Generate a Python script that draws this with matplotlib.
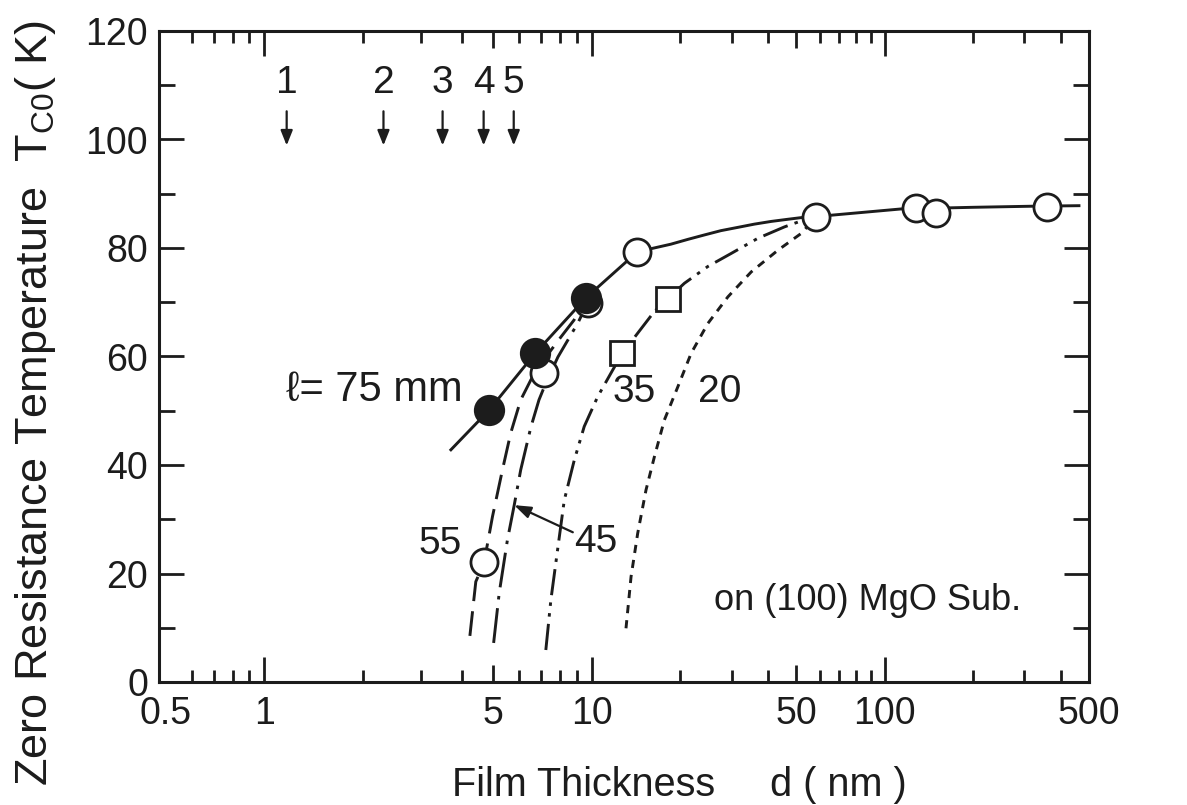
import numpy as np
import matplotlib
matplotlib.use("Agg")
import matplotlib.pyplot as plt
from matplotlib import font_manager as fm
from matplotlib.ticker import FixedLocator, NullFormatter

# ---------------- data ----------------
# measured points
open_d = [4.68, 7.14, 9.7, 14.3, 58.5, 128, 150, 359]
open_T = [22.1, 56.9, 69.8, 79.3, 85.8, 87.3, 86.4, 87.6]
filled_d = [4.85, 6.71, 9.58]
filled_T = [50.1, 60.6, 70.8]
square_d = [12.7, 18.2]
square_T = [60.6, 70.6]

# guide curves for substrate distance l (mm)
c75_d = [3.71, 4.85, 6.71, 9.58, 14.3, 16.3, 18.6, 21.3, 24.2, 27.6, 31.5, 35.9, 41.0,
         46.8, 51.9, 58.5, 114, 200, 318, 462]
c75_T = [42.8, 50.1, 60.6, 70.8, 79.3, 80.0, 80.7, 81.6, 82.4, 83.2, 83.8, 84.4, 84.9,
         85.3, 85.6, 85.8, 87.2, 87.5, 87.7, 87.8]
c55_d = [4.24, 4.42, 4.68, 4.97, 5.33, 5.65, 6.06, 6.51, 7.23, 8.04, 8.81, 9.58]
c55_T = [8.5, 18.5, 21.9, 30.5, 39.1, 45.9, 52.0, 55.7, 59.9, 63.6, 66.7, 70.8]
c45_d = [5.01, 5.21, 5.52, 5.79, 6.06, 6.51, 6.89, 7.23, 7.87, 9.06, 9.79]
c45_T = [7.2, 16.4, 26.2, 32.6, 39.1, 47.0, 52.0, 55.1, 59.9, 66.2, 70.4]
c35_d = [7.23, 7.49, 7.85, 8.23, 8.83, 9.47, 10.46, 11.77, 12.7, 14.33, 16.34, 18.2,
         20.7, 24.9, 29.92, 36.93, 45.54, 51.94, 58.5]
c35_T = [5.9, 15.1, 24.3, 33.5, 40.9, 47.1, 52.6, 57.5, 60.6, 64.3, 68.3, 70.7,
         73.5, 76.6, 79.0, 81.8, 83.9, 85.0, 85.8]
c20_d = [13.07, 13.60, 14.33, 15.30, 16.34, 17.68, 19.65, 21.83, 24.90, 29.15, 35.03,
         43.23, 51.94, 58.5]
c20_T = [9.9, 19.4, 27.4, 35.4, 41.5, 48.3, 54.4, 60.6, 66.1, 71.0, 75.6,
         79.6, 82.7, 85.8]

# numbered thickness markers at the top
mark_labels = ["1", "2", "3", "4", "5"]
mark_d = [1.17, 2.31, 3.50, 4.67, 5.77]

xtick_vals = [0.5, 1, 5, 10, 50, 100, 500]
xtick_labels = ["0.5", "1", "5", "10", "50", "100", "500"]
ytick_vals = [0, 20, 40, 60, 80, 100, 120]

# ---------------- fonts ----------------
avail = {f.name for f in fm.fontManager.ttflist}
FONT = "Liberation Sans" if "Liberation Sans" in avail else "DejaVu Sans"
S_TICK, S_NUM, S_XLAB, S_YLAB, S_SMALL, S_ELL = 27, 28, 28.5, 32.5, 26, 30
plt.rcParams["font.family"] = [FONT, "DejaVu Sans"]
plt.rcParams["mathtext.fontset"] = "custom"
plt.rcParams["mathtext.rm"] = FONT
plt.rcParams["mathtext.it"] = FONT
plt.rcParams["mathtext.bf"] = FONT

INK = "#1c1c1c"

# log paper of the original: the 0.5-10 decades are slightly wider than the others
def fwd(x):
    l = np.log10(np.clip(np.asarray(x, dtype=float), 1e-9, None))
    return np.where(l <= 1, l * 1.12, l + 0.12)

def inv(u):
    u = np.asarray(u, dtype=float)
    return 10 ** np.where(u <= 1.12, u / 1.12, u - 0.12)

fig = plt.figure(figsize=(11.87, 8.05), dpi=100)
ax = fig.add_axes([159 / 1187, 123 / 805, 930 / 1187, 651 / 805])
ax.set_xscale("function", functions=(fwd, inv))
ax.set_xlim(0.477, 500)
ax.set_ylim(0, 120)

lw = 2.1
ax.plot(c75_d, c75_T, color=INK, lw=lw, ls="-", zorder=2)
ax.plot(c55_d, c55_T, color=INK, lw=lw, dashes=(8.5, 3.5), zorder=2)
ax.plot(c45_d, c45_T, color=INK, lw=lw, dashes=(12, 3, 1.2, 3), zorder=2)
ax.plot(c35_d, c35_T, color=INK, lw=lw, dashes=(9, 2.5, 1.2, 2.5, 1.2, 2.5), zorder=2)
ax.plot(c20_d, c20_T, color=INK, lw=lw, dashes=(2.8, 2.4), zorder=2)

ax.plot(open_d, open_T, ls="none", marker="o", ms=19.5, mfc="white", mec=INK, mew=2.0, zorder=3)
ax.plot(filled_d, filled_T, ls="none", marker="o", ms=21, mfc=INK, mec=INK, mew=1.5, zorder=4)
ax.plot(square_d, square_T, ls="none", marker="s", ms=17.5, mfc="white", mec=INK, mew=2.0, zorder=3)

# numbered arrows at the top
for lab, d in zip(mark_labels, mark_d):
    ax.annotate("", xy=(d, 98.9), xytext=(d, 105.2),
                arrowprops=dict(arrowstyle="-|>,head_length=0.45,head_width=0.18",
                                color=INK, lw=1.6, shrinkA=0, shrinkB=0,
                                mutation_scale=20))
    ax.text(d, 110.4, lab, ha="center", va="center", fontsize=S_NUM, color=INK)

# curve labels
ax.text(4.03, 53.8, "\u2113= 75 mm", ha="right", va="center", fontsize=S_ELL, color=INK,
        family=[FONT, "DejaVu Sans"])
ax.text(3.43, 25.4, "55", ha="center", va="center", fontsize=S_NUM, color=INK)
ax.text(10.3, 25.8, "45", ha="center", va="center", fontsize=S_NUM, color=INK)
ax.text(13.9, 53.5, "35", ha="center", va="center", fontsize=S_NUM, color=INK)
ax.text(27.4, 53.5, "20", ha="center", va="center", fontsize=S_NUM, color=INK)
ax.annotate("", xy=(5.79, 32.6), xytext=(8.74, 27.6),
            arrowprops=dict(arrowstyle="-|>,head_length=0.5,head_width=0.18",
                            color=INK, lw=1.6, shrinkA=0, shrinkB=0,
                            mutation_scale=20))
ax.text(87.4, 15.1, "on (100) MgO Sub.", ha="center", va="center", fontsize=S_SMALL, color=INK)

# axes styling
for sp in ax.spines.values():
    sp.set_linewidth(2.2)
    sp.set_color(INK)

ax.xaxis.set_major_locator(FixedLocator(xtick_vals))
ax.set_xticklabels(xtick_labels)
minor_x = [0.6, 0.7, 0.8, 0.9, 2, 3, 4, 6, 7, 8, 9, 20, 30, 40, 60, 70, 80, 90, 200, 300, 400]
ax.xaxis.set_minor_locator(FixedLocator(minor_x))
ax.xaxis.set_minor_formatter(NullFormatter())
ax.set_yticks(ytick_vals)
ax.yaxis.set_minor_locator(FixedLocator([10, 30, 50, 70, 90, 110]))

ax.tick_params(which="both", direction="in", top=True, right=True, width=2.0, color=INK,
               labelcolor=INK, labelsize=S_TICK)
ax.tick_params(axis="x", which="major", length=18, pad=10)
ax.tick_params(axis="x", which="minor", length=8.5)
ax.tick_params(axis="y", which="major", length=18, pad=8)
ax.tick_params(axis="y", which="minor", length=11.5)

fig.canvas.draw()
xlens = {0.5: 0, 1: 18, 5: 12, 10: 18, 50: 12, 100: 18, 500: 0}
for t, v in zip(ax.xaxis.get_major_ticks(), xtick_vals):
    t.tick1line.set_markersize(xlens[v])
    t.tick2line.set_markersize(xlens[v])

ax.set_xlabel("Film Thickness     d ( nm )", fontsize=S_XLAB, color=INK)
ax.xaxis.set_label_coords((679 - 159) / 930, (682 - 766) / 651)
ax.set_ylabel(r"Zero Resistance Temperature  $\mathrm{T}_{\mathrm{C0}}$( K)", fontsize=S_YLAB, color=INK)
ax.yaxis.set_label_coords((58 - 159) / 930, (682 - 403) / 651)

fig.savefig("out.png", dpi=100, facecolor="white")
